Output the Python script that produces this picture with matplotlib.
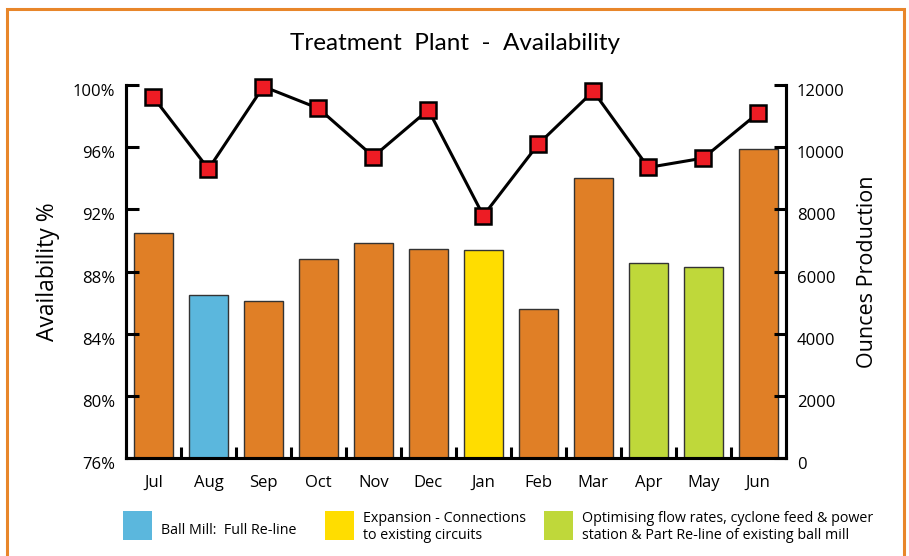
import matplotlib
matplotlib.use("Agg")
import matplotlib.pyplot as plt
import matplotlib.transforms as mtransforms
from matplotlib.patches import Rectangle

plt.rcParams['font.family'] = ['Open Sans', 'DejaVu Sans']

months = ['Jul', 'Aug', 'Sep', 'Oct', 'Nov', 'Dec', 'Jan', 'Feb', 'Mar', 'Apr', 'May', 'Jun']
availability = [99.2, 94.6, 99.9, 98.5, 95.4, 98.4, 91.6, 96.2, 99.6, 94.7, 95.3, 98.2]
ounces = [7230, 5260, 5060, 6400, 6910, 6730, 6700, 4790, 9000, 6270, 6140, 9930]
bar_groups = ['normal', 'relining', 'normal', 'normal', 'normal', 'normal',
              'expansion', 'normal', 'normal', 'optimising', 'optimising', 'normal']

group_colors = {'normal': '#E07F26', 'relining': '#5BB7DD',
                'expansion': '#FFDD00', 'optimising': '#BFD83A'}
legend_labels = [('relining', 'Ball Mill:  Full Re-line'),
                 ('expansion', 'Expansion - Connections\nto existing circuits'),
                 ('optimising', 'Optimising flow rates, cyclone feed & power\nstation & Part Re-line of existing ball mill')]

W, H = 909, 556
fig = plt.figure(figsize=(W / 100, H / 100), dpi=100)

# orange frame round the whole picture
fig.patches.append(Rectangle((7 / W, -0.05), 897 / W, 1.05 - 9 / H, transform=fig.transFigure,
                             fill=False, edgecolor='#E8862A', linewidth=2.2))

ax = fig.add_axes([126 / W, 1 - 458.3 / H, 659.7 / W, 373.3 / H])
ax2 = ax.twinx()

x = list(range(len(months)))
ax2.bar(x, ounces, width=0.71, color=[group_colors[g] for g in bar_groups],
        edgecolor='#333333', linewidth=1.0, zorder=1)
ax2.set_ylim(0, 12000)
ax2.set_yticks(range(0, 12001, 2000))

ax.set_zorder(ax2.get_zorder() + 1)
ax.patch.set_visible(False)
ax.plot(x, availability, color='black', linewidth=2.2, marker='s', markersize=11.5,
        markerfacecolor='#ED1C24', markeredgecolor='black', markeredgewidth=1.8,
        zorder=5, clip_on=False)
ax.set_ylim(76, 100)
ax.set_yticks(range(76, 101, 4))
ax.set_yticklabels([f'{v}%' for v in range(76, 101, 4)])
ax.set_xlim(-0.5, 11.5)
ax.set_xticks(x)
ax.set_xticklabels(months)
ax.set_xticks([i + 0.5 for i in range(11)], minor=True)

for a in (ax, ax2):
    a.spines['top'].set_visible(False)
    for s in ('left', 'right', 'bottom'):
        a.spines[s].set_linewidth(2.2)
        a.spines[s].set_color('black')

ax.tick_params(axis='y', direction='in', length=9, width=2.2, labelsize=12, pad=8)
ax.tick_params(axis='x', which='major', length=0, labelsize=12, pad=12)
ax.tick_params(axis='x', which='minor', direction='in', length=8, width=2.2)
ax2.tick_params(axis='y', direction='in', length=9, width=2.2, labelsize=12, pad=8)
ax.set_ylabel('Availability %', fontsize=16.5, labelpad=9)
ax2.set_ylabel('Ounces Production', fontsize=15.5, labelpad=9)

# the y tick labels sit a little below their ticks
shift = mtransforms.ScaledTranslation(0, -5 / 100, fig.dpi_scale_trans)
for lab in ax.get_yticklabels() + ax2.get_yticklabels():
    lab.set_transform(lab.get_transform() + shift)

fig.text(455 / W, 1 - 43 / H, 'Treatment  Plant  -  Availability', ha='center', va='center',
         fontsize=17.5, family=['Lato', 'DejaVu Sans'])

# legend patches below the axes
patch_x = [123, 325, 544]
for (key, label), px in zip(legend_labels, patch_x):
    fig.patches.append(Rectangle((px / W, 1 - 540 / H), 29 / W, 29 / H, transform=fig.transFigure,
                                 facecolor=group_colors[key], edgecolor='none'))
    ty = 531 if '\n' not in label else 527
    fig.text((px + 38) / W, 1 - ty / H, label, ha='left', va='center', fontsize=10.3,
             linespacing=1.1)

fig.savefig('out.png', dpi=100)
